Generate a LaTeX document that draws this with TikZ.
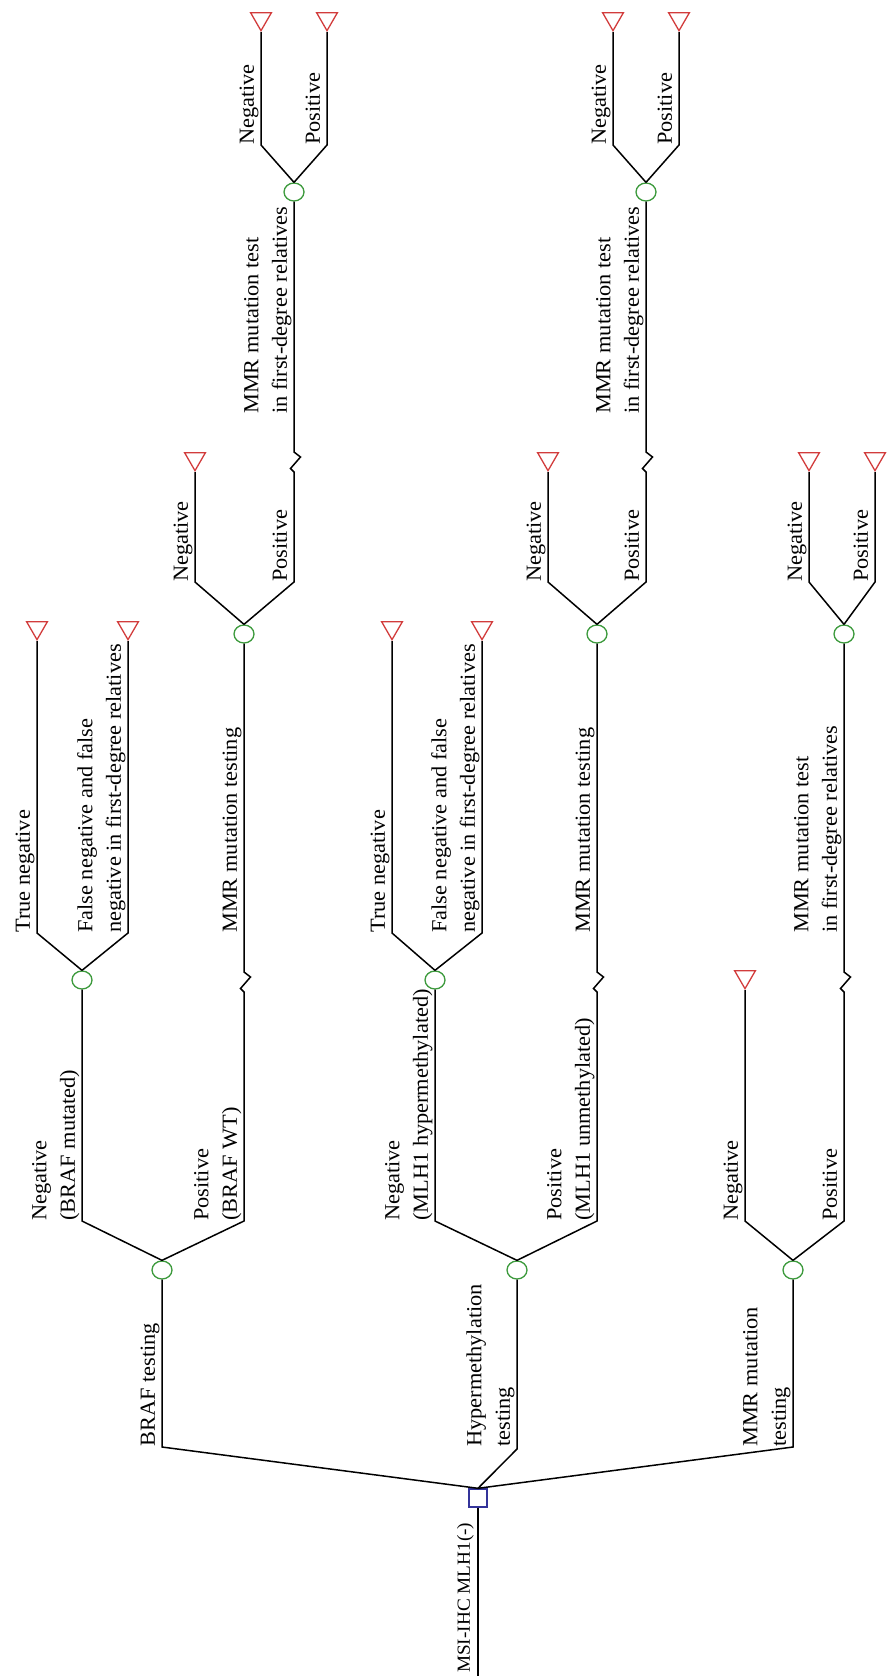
\documentclass[tikz,border=0pt]{standalone}
\usepackage{fontspec}
\setmainfont[FakeStretch=1.04]{Liberation Serif}
\usetikzlibrary{shapes.geometric}
\definecolor{chgreen}{HTML}{3C9A3C}
\definecolor{termred}{HTML}{D23C3C}
\definecolor{decblue}{HTML}{34349A}
\tikzset{
  edge/.style={draw=black, line width=1.5pt, line join=miter},
  chance/.style={ellipse, draw=chgreen, line width=1.3pt, fill=white, minimum width=20pt, minimum height=18pt, inner sep=0pt},
  term/.style={regular polygon, regular polygon sides=3, shape border rotate=180, draw=termred, line width=1.3pt, fill=white, minimum size=24pt, inner sep=0pt, anchor=south},
  dec/.style={rectangle, draw=decblue, line width=1.4pt, fill=white, minimum size=18pt, inner sep=0pt},
  lbl/.style={rotate=90, anchor=south west, inner sep=0pt, text depth=5pt, align=left, font=\fontsize{21.5}{28.5}\selectfont},
}
\begin{document}
\begin{tikzpicture}[x=1pt,y=-1pt]
\useasboundingbox (0,0) rectangle (890,1679);

% ---------- root ----------
\node[dec] (root) at (478,1498) {};
\coordinate (rootend) at (478,1676);
\draw[edge] (root.south) -- (rootend);
\node[lbl, font=\fontsize{18.5}{24}\selectfont] (lroot) at (475,1673) {MSI-IHC MLH1(-)};

% ---------- level 1 ----------
\node[chance] (braf) at (162,1270) {};
\node[chance] (hyp) at (517,1270) {};
\node[chance] (mmr) at (793,1270) {};
\coordinate (rb) at (162,1447);
\coordinate (rh) at (517,1449);
\coordinate (rm) at (793,1447);
\draw[edge] (root.north) -- (rb) -- (braf.south);
\draw[edge] (root.north) -- (rh) -- (hyp.south);
\draw[edge] (root.north) -- (rm) -- (mmr.south);
\node[lbl] (lbraf) at (160,1447) {BRAF testing};
\node[lbl] (lhyp) at (515,1447) {Hypermethylation\\testing};
\node[lbl] (lmmr) at (791,1447) {MMR mutation\\testing};

% ---------- level 2 nodes ----------
\node[chance] (brafneg) at (82,980) {};
\node[chance] (hypneg) at (435,980) {};
\node[term] (tmn) at (745,990) {};
\node[chance] (brafpos) at (244,634) {};
\node[chance] (hyppos) at (597,634) {};
\node[chance] (mmrpos) at (844,634) {};

\coordinate (bn) at (82,1221);
\coordinate (bp) at (244,1221);
\coordinate (hn) at (435,1221);
\coordinate (hp) at (597,1221);
\coordinate (mn) at (745,1221);
\coordinate (mp) at (844,1221);
\coordinate (zbp) at (244,992);
\coordinate (zhp) at (597,992);
\coordinate (zmp) at (844,992);

\draw[edge] (braf.north) -- (bn) -- (brafneg.south);
\draw[edge] (braf.north) -- (bp) -- (zbp) -- ++(-3.5,-3.5) -- ++(10,-11.5) -- ++(-6.5,-5) -- (brafpos.south);
\draw[edge] (hyp.north) -- (hn) -- (hypneg.south);
\draw[edge] (hyp.north) -- (hp) -- (zhp) -- ++(-3.5,-3.5) -- ++(10,-11.5) -- ++(-6.5,-5) -- (hyppos.south);
\draw[edge] (mmr.north) -- (mn) -- (tmn.south);
\draw[edge] (mmr.north) -- (mp) -- (zmp) -- ++(-3.5,-3.5) -- ++(10,-11.5) -- ++(-6.5,-5) -- (mmrpos.south);

\node[lbl] (lbn) at (80,1221) {Negative\\(BRAF mutated)};
\node[lbl] (lbp) at (242,1221) {Positive\\(BRAF WT)};
\node[lbl] (lhn) at (433,1221) {Negative\\(MLH1 hypermethylated)};
\node[lbl] (lhp) at (595,1221) {Positive\\(MLH1 unmethylated)};
\node[lbl] (lmn) at (743,1221) {Negative};
\node[lbl] (lmp) at (842,1221) {Positive};

% ---------- level 2 branches ----------
\node[term] (t1) at (37,641) {};
\node[term] (t2) at (128,641) {};
\node[term] (t3) at (392,641) {};
\node[term] (t4) at (482,641) {};
\coordinate (c1) at (37,933);
\coordinate (c2) at (128,933);
\coordinate (c3) at (392,933);
\coordinate (c4) at (482,933);
\draw[edge] (brafneg.north) -- (c1) -- (t1.south);
\draw[edge] (brafneg.north) -- (c2) -- (t2.south);
\draw[edge] (hypneg.north) -- (c3) -- (t3.south);
\draw[edge] (hypneg.north) -- (c4) -- (t4.south);

\node[lbl] (l1) at (35,933) {True negative};
\node[lbl] (l2) at (126,933) {False negative and false\\negative in first-degree relatives};
\node[lbl] (l3) at (390,933) {True negative};
\node[lbl] (l4) at (480,933) {False negative and false\\negative in first-degree relatives};
\node[lbl] (l5) at (242,933) {MMR mutation testing};
\node[lbl] (l6) at (595,933) {MMR mutation testing};
\node[lbl] (l7) at (842,933) {MMR mutation test\\in first-degree relatives};

% ---------- level 3 ----------
\node[term] (t5) at (195,472) {};
\node[term] (t6) at (548,472) {};
\node[term] (t7) at (809,472) {};
\node[term] (t8) at (875,472) {};
\node[chance] (rel1) at (294,192) {};
\node[chance] (rel2) at (646,192) {};
\coordinate (d1) at (195,582);
\coordinate (d2) at (294,582);
\coordinate (d3) at (548,582);
\coordinate (d4) at (646,582);
\coordinate (d5) at (809,582);
\coordinate (d6) at (875,582);
\coordinate (z1) at (294,472);
\coordinate (z2) at (646,472);
\draw[edge] (brafpos.north) -- (d1) -- (t5.south);
\draw[edge] (brafpos.north) -- (d2) -- (z1) -- ++(-3.5,-3.5) -- ++(10,-11.5) -- ++(-6.5,-5) -- (rel1.south);
\draw[edge] (hyppos.north) -- (d3) -- (t6.south);
\draw[edge] (hyppos.north) -- (d4) -- (z2) -- ++(-3.5,-3.5) -- ++(10,-11.5) -- ++(-6.5,-5) -- (rel2.south);
\draw[edge] (mmrpos.north) -- (d5) -- (t7.south);
\draw[edge] (mmrpos.north) -- (d6) -- (t8.south);

\node[lbl] (m1) at (193,582) {Negative};
\node[lbl] (m2) at (292,582) {Positive};
\node[lbl] (m3) at (546,582) {Negative};
\node[lbl] (m4) at (644,582) {Positive};
\node[lbl] (m5) at (807,582) {Negative};
\node[lbl] (m6) at (873,582) {Positive};
\node[lbl] (m7) at (292,414) {MMR mutation test\\in first-degree relatives};
\node[lbl] (m8) at (644,414) {MMR mutation test\\in first-degree relatives};

% ---------- level 4 ----------
\node[term] (t9) at (261,32) {};
\node[term] (t10) at (327,32) {};
\node[term] (t11) at (613,32) {};
\node[term] (t12) at (679,32) {};
\coordinate (e1) at (261,145);
\coordinate (e2) at (327,145);
\coordinate (e3) at (613,145);
\coordinate (e4) at (679,145);
\draw[edge] (rel1.north) -- (e1) -- (t9.south);
\draw[edge] (rel1.north) -- (e2) -- (t10.south);
\draw[edge] (rel2.north) -- (e3) -- (t11.south);
\draw[edge] (rel2.north) -- (e4) -- (t12.south);

\node[lbl] (n1) at (259,145) {Negative};
\node[lbl] (n2) at (325,145) {Positive};
\node[lbl] (n3) at (611,145) {Negative};
\node[lbl] (n4) at (677,145) {Positive};
\end{tikzpicture}
\end{document}
